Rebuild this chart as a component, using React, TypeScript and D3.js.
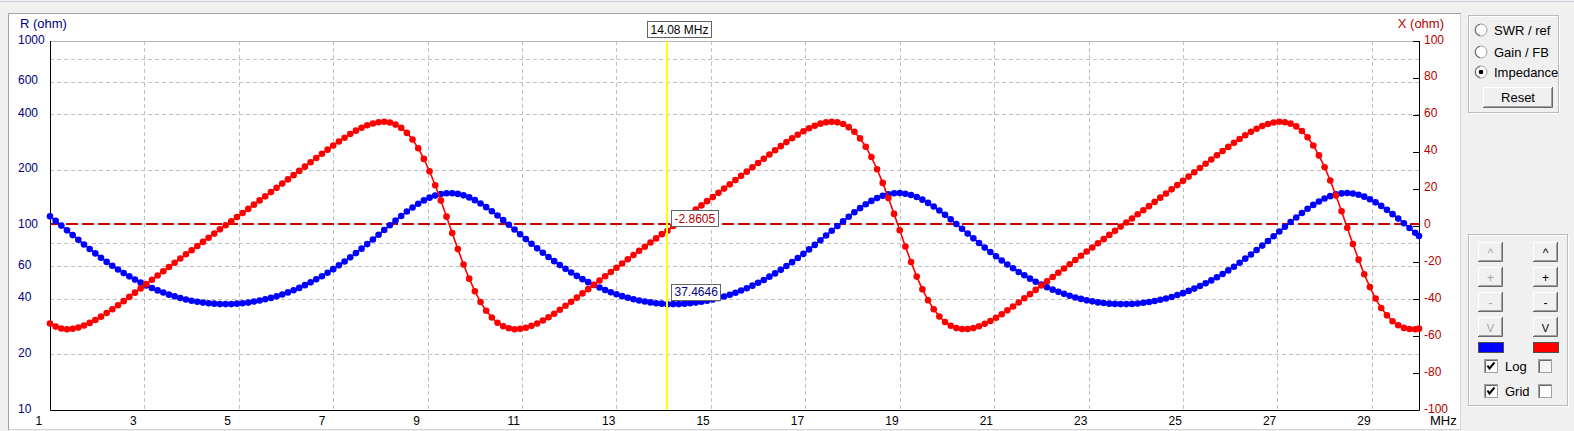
import { useEffect, useRef } from 'react';
import * as d3 from 'd3';

// Impedance sweep plot (R on a log axis, X on a linear axis) with the
// cursor read-out and the side control panel of the antenna program.

const WIDTH = 1574;
const HEIGHT = 431;
const PLOT = { left: 50, right: 1419, top: 41, bottom: 410 } as const;
const FONT = "'Liberation Sans', Arial, Helvetica, sans-serif";
const NAVY = '#000080';
const DARK_RED = '#b40000';

// Sweep settings (MHz): 1 .. 30 in 0.12 MHz steps, last point at 30.
const SWEEP_START_MHZ = 1;
const SWEEP_STOP_MHZ = 30;
const SWEEP_STEP_MHZ = 0.12;

// R (ohm), one value per sweep point
const R_OHM = [
  112.1, 105.9, 99.9, 94.1, 88.7, 83.6, 78.9, 74.6, 70.6, 66.9,
  63.5, 60.5, 57.7, 55.2, 53.0, 50.9, 49.0, 47.3, 45.8, 44.5,
  43.3, 42.2, 41.3, 40.4, 39.7, 39.1, 38.6, 38.2, 37.9, 37.7,
  37.5, 37.5, 37.5, 37.7, 37.9, 38.2, 38.7, 39.2, 39.8, 40.5,
  41.3, 42.3, 43.4, 44.6, 45.9, 47.5, 49.2, 51.1, 53.1, 55.4,
  58.0, 60.8, 63.8, 67.2, 70.8, 74.9, 79.3, 84.0, 89.1, 94.6,
  100.4, 106.4, 112.6, 119.0, 125.2, 131.3, 136.8, 141.6, 145.4, 148.2,
  149.6, 149.6, 148.3, 145.7, 142.0, 137.2, 131.7, 125.7, 119.5, 113.2,
  106.9, 100.9, 95.1, 89.6, 84.4, 79.6, 75.2, 71.2, 67.5, 64.1,
  61.0, 58.2, 55.6, 53.3, 51.2, 49.3, 47.6, 46.1, 44.7, 43.5,
  42.4, 41.4, 40.6, 39.8, 39.2, 38.7, 38.3, 37.9, 37.7, 37.46,
  37.5, 37.5, 37.7, 37.9, 38.2, 38.6, 39.1, 39.7, 40.4, 41.2,
  42.1, 43.2, 44.4, 45.7, 47.2, 48.9, 50.7, 52.8, 55.0, 57.5,
  60.3, 63.3, 66.6, 70.2, 74.2, 78.5, 83.2, 88.3, 93.7, 99.4,
  105.4, 111.6, 117.9, 124.2, 130.3, 135.9, 140.8, 144.8, 147.8, 149.5,
  149.8, 148.7, 146.3, 142.7, 138.1, 132.6, 126.7, 120.5, 114.2, 108.0,
  101.8, 96.0, 90.4, 85.2, 80.4, 75.9, 71.8, 68.1, 64.6, 61.5,
  58.6, 56.0, 53.7, 51.5, 49.6, 47.9, 46.3, 44.9, 43.7, 42.6,
  41.6, 40.7, 40.0, 39.3, 38.8, 38.3, 38.0, 37.7, 37.6, 37.5,
  37.5, 37.6, 37.8, 38.1, 38.5, 39.0, 39.6, 40.2, 41.0, 42.0,
  43.0, 44.2, 45.5, 47.0, 48.6, 50.4, 52.4, 54.6, 57.1, 59.8,
  62.8, 66.1, 69.6, 73.6, 77.8, 82.4, 87.4, 92.7, 98.4, 104.4,
  110.6, 116.9, 123.2, 129.3, 135.0, 140.0, 144.2, 147.4, 149.3, 150.0,
  149.1, 146.8, 143.3, 138.8, 133.5, 127.7, 121.6, 115.2, 109.0, 102.8,
  96.9, 91.3, 87.8,
];

// X (ohm), one value per sweep point
const X_OHM = [
  -53.1, -54.8, -55.8, -56.2, -56.0, -55.3, -54.2, -52.8, -51.2, -49.4,
  -47.4, -45.4, -43.2, -41.0, -38.7, -36.4, -34.1, -31.8, -29.4, -27.1,
  -24.8, -22.5, -20.2, -17.9, -15.6, -13.4, -11.1, -8.9, -6.6, -4.4,
  -2.1, 0.1, 2.3, 4.6, 6.8, 9.0, 11.3, 13.6, 15.8, 18.1,
  20.4, 22.7, 25.0, 27.3, 29.6, 31.9, 34.3, 36.6, 38.9, 41.1,
  43.4, 45.5, 47.6, 49.6, 51.4, 53.0, 54.3, 55.3, 56.0, 56.2,
  55.8, 54.7, 52.9, 50.2, 46.6, 41.9, 36.1, 29.4, 21.8, 13.5,
  4.8, -4.1, -12.8, -21.1, -28.8, -35.6, -41.5, -46.2, -49.9, -52.7,
  -54.6, -55.7, -56.2, -56.0, -55.4, -54.4, -53.1, -51.5, -49.7, -47.8,
  -45.7, -43.5, -41.3, -39.1, -36.8, -34.5, -32.1, -29.8, -27.5, -25.2,
  -22.9, -20.6, -18.3, -16.0, -13.7, -11.5, -9.2, -7.0, -4.7, -2.86,
  -0.3, 2.0, 4.2, 6.4, 8.7, 10.9, 13.2, 15.4, 17.7, 20.0,
  22.3, 24.6, 26.9, 29.2, 31.6, 33.9, 36.2, 38.5, 40.8, 43.0,
  45.2, 47.3, 49.2, 51.1, 52.7, 54.1, 55.2, 55.9, 56.2, 55.9,
  55.0, 53.3, 50.8, 47.2, 42.7, 37.1, 30.5, 23.1, 14.9, 6.3,
  -2.6, -11.4, -19.8, -27.7, -34.6, -40.5, -45.4, -49.3, -52.3, -54.3,
  -55.6, -56.1, -56.1, -55.6, -54.6, -53.3, -51.8, -50.0, -48.1, -46.0,
  -43.9, -41.7, -39.4, -37.2, -34.9, -32.5, -30.2, -27.9, -25.6, -23.3,
  -21.0, -18.7, -16.4, -14.1, -11.9, -9.6, -7.4, -5.1, -2.9, -0.6,
  1.6, 3.8, 6.1, 8.3, 10.5, 12.8, 15.1, 17.3, 19.6, 21.9,
  24.2, 26.5, 28.9, 31.2, 33.5, 35.8, 38.1, 40.4, 42.6, 44.8,
  46.9, 48.9, 50.8, 52.4, 53.9, 55.0, 55.8, 56.2, 56.0, 55.2,
  53.7, 51.2, 47.8, 43.4, 38.0, 31.6, 24.4, 16.3, 7.7, -1.2,
  -10.0, -18.5, -26.4, -33.4, -39.6, -44.7, -48.7, -51.9, -54.1, -55.5,
  -56.1, -56.2, -55.9,
];

const FREQ_TICKS = [1, 3, 5, 7, 9, 11, 13, 15, 17, 19, 21, 23, 25, 27, 29];
const FREQ_GRID = [3, 5, 7, 9, 11, 13, 15, 17, 19, 21, 23, 25, 27, 29];
const R_TICKS = [1000, 600, 400, 200, 100, 60, 40, 20, 10];
const R_GRID = [800, 600, 400, 200, 80, 60, 40, 20];
const X_TICKS = [100, 80, 60, 40, 20, 0, -20, -40, -60, -80, -100];

const MARKER_MHZ = 14.08;
const MARKER_R = 37.4646;
const MARKER_X = -2.8605;

const MODE_OPTIONS = ['SWR / ref', 'Gain / FB', 'Impedance'];
const SELECTED_MODE = 'Impedance';
const SCALE_BUTTONS = ['^', '+', '-', 'V'];
const AXIS_OPTIONS = [
  { label: 'Log', left: true, right: false, rightEnabled: false },
  { label: 'Grid', left: true, right: false, rightEnabled: true },
];

interface SweepPoint {
  f: number;
  r: number;
  x: number;
}

export default function App() {
  const svgRef = useRef<SVGSVGElement | null>(null);

  useEffect(() => {
    const svgEl = svgRef.current;
    if (!svgEl) return;
    const svg = d3.select(svgEl);
    svg.selectAll('*').remove();

    const freqs = [
      ...d3.range(SWEEP_START_MHZ, SWEEP_STOP_MHZ, SWEEP_STEP_MHZ),
      SWEEP_STOP_MHZ,
    ];
    const points: SweepPoint[] = freqs.map((f, i) => ({ f, r: R_OHM[i], x: X_OHM[i] }));

    const fScale = d3.scaleLinear().domain([1, 30]).range([PLOT.left, PLOT.right]);
    const rScale = d3.scaleLog().domain([10, 1000]).range([PLOT.bottom, PLOT.top]);
    const xScale = d3.scaleLinear().domain([-100, 100]).range([PLOT.bottom, PLOT.top]);
    const crisp = (v: number) => Math.round(v) + 0.5;

    // ---- window background ------------------------------------------------
    svg.append('rect').attr('width', WIDTH).attr('height', HEIGHT).attr('fill', '#f0f0f0');
    svg.append('line')
      .attr('x1', 0).attr('x2', WIDTH).attr('y1', 1.5).attr('y2', 1.5)
      .attr('stroke', '#c9cbd8');

    // chart panel (sunken)
    svg.append('rect')
      .attr('x', 9).attr('y', 14).attr('width', 1451).attr('height', 416)
      .attr('fill', '#ffffff');
    svg.append('path')
      .attr('d', 'M8.5,430 V13.5 H1461')
      .attr('fill', 'none').attr('stroke', '#a0a0a0');
    svg.append('path')
      .attr('d', 'M1460.5,14 V429.5 H9')
      .attr('fill', 'none').attr('stroke', '#d4d4d4');

    const root = svg.append('g');

    // ---- grid ---------------------------------------------------------------
    root.append('g')
      .selectAll('line')
      .data(FREQ_GRID)
      .join('line')
      .attr('x1', (d) => crisp(fScale(d)))
      .attr('x2', (d) => crisp(fScale(d)))
      .attr('y1', PLOT.top)
      .attr('y2', PLOT.bottom)
      .attr('stroke', '#c0c0c0')
      .attr('stroke-dasharray', '4 3');

    root.append('g')
      .selectAll('line')
      .data(R_GRID)
      .join('line')
      .attr('x1', PLOT.left)
      .attr('x2', PLOT.right)
      .attr('y1', (d) => crisp(rScale(d)))
      .attr('y2', (d) => crisp(rScale(d)))
      .attr('stroke', '#c0c0c0')
      .attr('stroke-dasharray', '4 3');

    // X = 0 reference
    const zeroY = Math.floor(xScale(0)) - 1;
    root.append('line')
      .attr('x1', PLOT.left)
      .attr('x2', PLOT.right)
      .attr('y1', zeroY)
      .attr('y2', zeroY)
      .attr('stroke', '#d00000')
      .attr('stroke-width', 2)
      .attr('stroke-dasharray', '12 4');

    // ---- frame / axes -------------------------------------------------------
    root.append('line')
      .attr('x1', PLOT.left).attr('x2', PLOT.right)
      .attr('y1', PLOT.top + 0.5).attr('y2', PLOT.top + 0.5)
      .attr('stroke', '#b4b4b4');
    root.append('path')
      .attr('d', `M${PLOT.left + 0.5},${PLOT.top} V${PLOT.bottom + 0.5} H${PLOT.right + 0.5} V${PLOT.top}`)
      .attr('fill', 'none')
      .attr('stroke', '#000000');

    // right-axis ticks
    root.append('g')
      .selectAll('line')
      .data(X_TICKS)
      .join('line')
      .attr('x1', PLOT.right - 6)
      .attr('x2', PLOT.right)
      .attr('y1', (d) => crisp(xScale(d)))
      .attr('y2', (d) => crisp(xScale(d)))
      .attr('stroke', '#000000');

    const label = (
      parent: d3.Selection<SVGGElement, unknown, null, undefined>,
      x: number,
      y: number,
      text: string,
      color: string,
      size = 12,
      anchor = 'start',
    ) =>
      parent
        .append('text')
        .attr('x', x)
        .attr('y', y)
        .attr('text-anchor', anchor)
        .attr('font-family', FONT)
        .attr('font-size', size)
        .attr('fill', color)
        .text(text);

    const texts = svg.append('g');

    // left axis (R)
    R_TICKS.forEach((v) => label(texts, 18, rScale(v) + 2.5, String(v), NAVY));
    label(texts, 20, 28, 'R (ohm)', NAVY, 13);

    // right axis (X)
    X_TICKS.forEach((v) => label(texts, 1424, xScale(v) + 2.5, String(v), DARK_RED));
    label(texts, 1444, 28, 'X (ohm)', DARK_RED, 13, 'end');

    // frequency axis
    FREQ_TICKS.forEach((v) => label(texts, fScale(v) - 14.5, 425, String(v), '#000000'));
    label(texts, 1430, 425, 'MHz', '#000000', 13);

    // ---- series ---------------------------------------------------------------
    const rLine = d3.line<SweepPoint>().x((d) => fScale(d.f)).y((d) => rScale(d.r));
    const xLine = d3.line<SweepPoint>().x((d) => fScale(d.f)).y((d) => xScale(d.x));

    root.append('path')
      .datum(points)
      .attr('d', rLine)
      .attr('fill', 'none')
      .attr('stroke', '#0000ff')
      .attr('stroke-width', 1.6);
    root.append('g')
      .selectAll('circle')
      .data(points)
      .join('circle')
      .attr('cx', (d) => fScale(d.f))
      .attr('cy', (d) => rScale(d.r))
      .attr('r', 3.3)
      .attr('fill', '#0000ff');

    root.append('path')
      .datum(points)
      .attr('d', xLine)
      .attr('fill', 'none')
      .attr('stroke', '#ff0000')
      .attr('stroke-width', 1.6);
    root.append('g')
      .selectAll('circle')
      .data(points)
      .join('circle')
      .attr('cx', (d) => fScale(d.f))
      .attr('cy', (d) => xScale(d.x))
      .attr('r', 3.3)
      .attr('fill', '#ff0000');

    // ---- cursor ----------------------------------------------------------------
    const mx = fScale(MARKER_MHZ);
    root.append('line')
      .attr('x1', Math.round(mx)).attr('x2', Math.round(mx))
      .attr('y1', PLOT.top).attr('y2', PLOT.bottom)
      .attr('stroke', '#ffff00')
      .attr('stroke-width', 2);

    const boxLabel = (left: number, top: number, text: string, color: string) => {
      const g = svg.append('g');
      const rect = g.append('rect').attr('fill', '#ffffff').attr('stroke', '#646464');
      const t = g.append('text')
        .attr('x', left + 3)
        .attr('y', top + 12.5)
        .attr('font-family', FONT)
        .attr('font-size', 12)
        .attr('fill', color)
        .text(text);
      const w = (t.node() as SVGTextElement).getComputedTextLength();
      rect
        .attr('x', Math.round(left) + 0.5)
        .attr('y', Math.round(top) + 0.5)
        .attr('width', Math.round(w + 6))
        .attr('height', 16);
    };

    boxLabel(mx - 20, 21, `${MARKER_MHZ.toFixed(2)} MHz`, '#000000');
    boxLabel(mx + 4, xScale(MARKER_X) - 20.5, MARKER_X.toFixed(4), DARK_RED);
    boxLabel(mx + 4, rScale(MARKER_R) - 20.5, MARKER_R.toFixed(4), NAVY);

    // ---- control panel ------------------------------------------------------------
    const panel = svg.append('g');
    const groupBox = (x: number, y: number, w: number, h: number) => {
      panel.append('rect')
        .attr('x', x + 1.5).attr('y', y + 1.5).attr('width', w).attr('height', h)
        .attr('fill', 'none').attr('stroke', '#ffffff');
      panel.append('rect')
        .attr('x', x + 0.5).attr('y', y + 0.5).attr('width', w).attr('height', h)
        .attr('fill', 'none').attr('stroke', '#bcbcbc');
    };
    const button = (x: number, y: number, w: number, h: number) => {
      panel.append('rect')
        .attr('x', x).attr('y', y).attr('width', w).attr('height', h)
        .attr('fill', '#f0f0f0');
      panel.append('path')
        .attr('d', `M${x + 0.5},${y + h} V${y + 0.5} H${x + w}`)
        .attr('fill', 'none').attr('stroke', '#ffffff');
      panel.append('path')
        .attr('d', `M${x + 1},${y + h - 1.5} H${x + w - 1.5} V${y + 1}`)
        .attr('fill', 'none').attr('stroke', '#a0a0a0');
      panel.append('path')
        .attr('d', `M${x},${y + h - 0.5} H${x + w - 0.5} V${y}`)
        .attr('fill', 'none').attr('stroke', '#696969');
    };
    const checkBox = (x: number, y: number, checked: boolean, enabled: boolean) => {
      panel.append('rect')
        .attr('x', x + 0.5).attr('y', y + 0.5).attr('width', 13).attr('height', 13)
        .attr('fill', enabled ? '#ffffff' : '#f4f4f4')
        .attr('stroke', '#a0a0a0');
      panel.append('path')
        .attr('d', `M${x + 1.5},${y + 13} V${y + 1.5} H${x + 13}`)
        .attr('fill', 'none').attr('stroke', '#696969');
      if (checked) {
        panel.append('path')
          .attr('d', `M${x + 3.5},${y + 6.5} L${x + 5.5},${y + 9.5} L${x + 10.5},${y + 3.5}`)
          .attr('fill', 'none').attr('stroke', '#000000').attr('stroke-width', 2);
      }
    };

    // mode selector
    groupBox(1468, 15, 90, 97);
    MODE_OPTIONS.forEach((opt, i) => {
      const cy = [30, 52, 72][i];
      panel.append('circle')
        .attr('cx', 1481).attr('cy', cy).attr('r', 6)
        .attr('fill', '#ffffff').attr('stroke', '#a0a0a0');
      panel.append('path')
        .attr('d', d3.arc()({ innerRadius: 5, outerRadius: 6, startAngle: -Math.PI / 2 - 0.6, endAngle: 0.6 }) as string)
        .attr('transform', `translate(1481,${cy}) rotate(-45)`)
        .attr('fill', '#696969');
      if (opt === SELECTED_MODE) {
        panel.append('circle').attr('cx', 1481).attr('cy', cy).attr('r', 2.3).attr('fill', '#000000');
      }
      label(panel, 1494, cy + 4.5, opt, '#000000', 13);
    });
    button(1483, 87, 70, 21);
    label(panel, 1518, 102, 'Reset', '#000000', 13, 'middle');

    // scale controls
    groupBox(1468, 234, 99, 171);
    SCALE_BUTTONS.forEach((glyph, i) => {
      const y = 242 + i * 25;
      [1478, 1533].forEach((x, col) => {
        button(x, y, 25, 20);
        label(panel, x + 12.5, y + (glyph === '^' ? 15 : 14.5), glyph,
          col === 0 ? '#a0a0a0' : '#000000', glyph === 'V' ? 11 : 12, 'middle');
      });
    });
    panel.append('rect')
      .attr('x', 1478.5).attr('y', 342.5).attr('width', 25).attr('height', 10)
      .attr('fill', '#0000ff').attr('stroke', '#505050');
    panel.append('rect')
      .attr('x', 1533.5).attr('y', 342.5).attr('width', 25).attr('height', 10)
      .attr('fill', '#ff0000').attr('stroke', '#505050');

    AXIS_OPTIONS.forEach((opt, i) => {
      const y = 359 + i * 25;
      checkBox(1484, y, opt.left, true);
      label(panel, 1505, y + 11.5, opt.label, '#000000', 13);
      checkBox(1538, y, opt.right, opt.rightEnabled);
    });
  }, []);

  return (
    <svg
      ref={svgRef}
      width={WIDTH}
      height={HEIGHT}
      viewBox={`0 0 ${WIDTH} ${HEIGHT}`}
      style={{ position: 'absolute', left: 0, top: 0, display: 'block' }}
      role="img"
      aria-label="Impedance sweep: R and X versus frequency"
    />
  );
}
